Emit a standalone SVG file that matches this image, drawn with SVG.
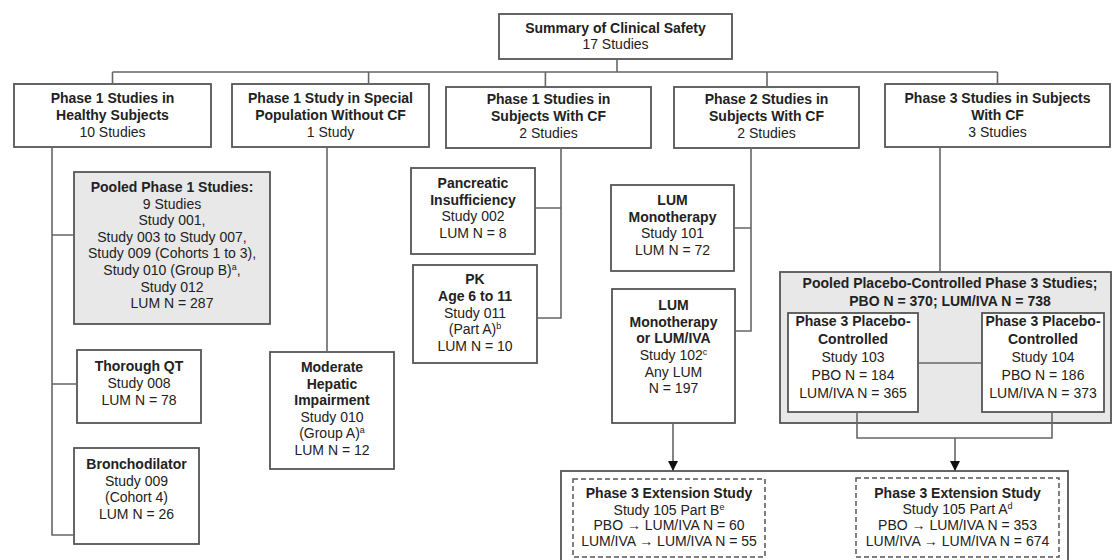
<svg xmlns="http://www.w3.org/2000/svg" width="1113" height="560" viewBox="0 0 1113 560">
<defs>
<style>
.box{fill:#fff;stroke:#555;stroke-width:1.8}
.gray{fill:#e8e8e8}
.dash{stroke-dasharray:5 3;stroke-width:1.5}
.t{font-family:"Liberation Sans",Arial,sans-serif;font-size:14px;fill:#222;text-anchor:middle}
.b{font-weight:bold}
.conn{stroke:#666;stroke-width:1.6;fill:none}
.sup{font-size:9px}
</style>
<marker id="arr" viewBox="0 0 10 10" refX="10" refY="5" markerWidth="10" markerHeight="10" markerUnits="userSpaceOnUse" orient="auto">
<path d="M0,0 L10,5 L0,10 z" fill="#111"/>
</marker>
</defs>
<rect width="1113" height="560" fill="#fff"/>

<g id="top">
<rect class="box" x="499" y="14" width="233" height="45"/>
<text class="t b" x="615.5" y="33">Summary of Clinical Safety</text>
<text class="t" x="615.5" y="49">17 Studies</text>
</g>

<g id="p1healthy">
<rect class="box" x="14" y="84" width="197" height="63"/>
<text class="t b" x="112.5" y="103">Phase 1 Studies in</text>
<text class="t b" x="112.5" y="120">Healthy Subjects</text>
<text class="t" x="112.5" y="137">10 Studies</text>
</g>

<g id="p1special">
<rect class="box" x="232" y="84" width="197" height="63"/>
<text class="t b" x="330.5" y="103">Phase 1 Study in Special</text>
<text class="t b" x="330.5" y="120">Population Without CF</text>
<text class="t" x="330.5" y="137">1 Study</text>
</g>

<g id="p1cf">
<rect class="box" x="446" y="87" width="205" height="61"/>
<text class="t b" x="548.5" y="104">Phase 1 Studies in</text>
<text class="t b" x="548.5" y="121">Subjects With CF</text>
<text class="t" x="548.5" y="138">2 Studies</text>
</g>

<g id="p2cf">
<rect class="box" x="674" y="87" width="185" height="61"/>
<text class="t b" x="766.5" y="104">Phase 2 Studies in</text>
<text class="t b" x="766.5" y="121">Subjects With CF</text>
<text class="t" x="766.5" y="138">2 Studies</text>
</g>

<g id="p3cf">
<rect class="box" x="885" y="84" width="225" height="63"/>
<text class="t b" x="997.5" y="103">Phase 3 Studies in Subjects</text>
<text class="t b" x="997.5" y="120">With CF</text>
<text class="t" x="997.5" y="137">3 Studies</text>
</g>

<g id="pooledp1">
<rect class="box gray" x="74" y="172" width="196" height="152"/>
<text class="t b" x="172" y="192">Pooled Phase 1 Studies:</text>
<text class="t" x="172" y="208.6">9 Studies</text>
<text class="t" x="172" y="225.2">Study 001,</text>
<text class="t" x="172" y="241.8">Study 003 to Study 007,</text>
<text class="t" x="172" y="258.4">Study 009 (Cohorts 1 to 3),</text>
<text class="t" x="172" y="275">Study 010 (Group B)<tspan class="sup" baseline-shift="super">a</tspan>,</text>
<text class="t" x="172" y="291.6">Study 012</text>
<text class="t" x="172" y="308.2">LUM N = 287</text>
</g>

<g id="thoroughqt">
<rect class="box" x="77" y="350" width="124" height="73"/>
<text class="t b" x="139" y="371">Thorough QT</text>
<text class="t" x="139" y="388">Study 008</text>
<text class="t" x="139" y="405">LUM N = 78</text>
</g>

<g id="broncho">
<rect class="box" x="74" y="448" width="125" height="96"/>
<text class="t b" x="136.5" y="469">Bronchodilator</text>
<text class="t" x="136.5" y="486">Study 009</text>
<text class="t" x="136.5" y="502">(Cohort 4)</text>
<text class="t" x="136.5" y="519">LUM N = 26</text>
</g>

<g id="hepatic">
<rect class="box" x="270" y="352" width="124" height="117"/>
<text class="t b" x="332" y="372">Moderate</text>
<text class="t b" x="332" y="389">Hepatic</text>
<text class="t b" x="332" y="405">Impairment</text>
<text class="t" x="332" y="422">Study 010</text>
<text class="t" x="332" y="438">(Group A)<tspan class="sup" baseline-shift="super">a</tspan></text>
<text class="t" x="332" y="455">LUM N = 12</text>
</g>

<g id="pancreatic">
<rect class="box" x="411" y="168" width="124" height="86"/>
<text class="t b" x="473" y="188">Pancreatic</text>
<text class="t b" x="473" y="205">Insufficiency</text>
<text class="t" x="473" y="221">Study 002</text>
<text class="t" x="473" y="238">LUM N = 8</text>
</g>

<g id="pk">
<rect class="box" x="413" y="265" width="124" height="98"/>
<text class="t b" x="475" y="284">PK</text>
<text class="t b" x="475" y="301">Age 6 to 11</text>
<text class="t" x="475" y="318">Study 011</text>
<text class="t" x="475" y="334">(Part A)<tspan class="sup" baseline-shift="super">b</tspan></text>
<text class="t" x="475" y="351">LUM N = 10</text>
</g>

<g id="study101">
<rect class="box" x="611" y="185" width="123" height="86"/>
<text class="t b" x="672.5" y="205">LUM</text>
<text class="t b" x="672.5" y="222">Monotherapy</text>
<text class="t" x="672.5" y="238">Study 101</text>
<text class="t" x="672.5" y="255">LUM N = 72</text>
</g>

<g id="study102">
<rect class="box" x="612" y="289" width="123" height="134"/>
<text class="t b" x="673.5" y="310">LUM</text>
<text class="t b" x="673.5" y="327">Monotherapy</text>
<text class="t b" x="673.5" y="343">or LUM/IVA</text>
<text class="t" x="673.5" y="360">Study 102<tspan class="sup" baseline-shift="super">c</tspan></text>
<text class="t" x="673.5" y="377">Any LUM</text>
<text class="t" x="673.5" y="393">N = 197</text>
</g>

<g id="pooledp3">
<rect class="box gray" x="780" y="272" width="331" height="151"/>
<text class="t b" x="950" y="288">Pooled Placebo-Controlled Phase 3 Studies;</text>
<text class="t b" x="950" y="306">PBO N = 370; LUM/IVA N = 738</text>
</g>

<g id="study103">
<rect class="box" x="788" y="313" width="130" height="99"/>
<text class="t b" x="853" y="326">Phase 3 Placebo-</text>
<text class="t b" x="853" y="344">Controlled</text>
<text class="t" x="853" y="362">Study 103</text>
<text class="t" x="853" y="380">PBO N = 184</text>
<text class="t" x="853" y="398">LUM/IVA N = 365</text>
</g>

<g id="study104">
<rect class="box" x="982" y="313" width="122" height="99"/>
<text class="t b" x="1043" y="326">Phase 3 Placebo-</text>
<text class="t b" x="1043" y="344">Controlled</text>
<text class="t" x="1043" y="362">Study 104</text>
<text class="t" x="1043" y="380">PBO N = 186</text>
<text class="t" x="1043" y="398">LUM/IVA N = 373</text>
</g>

<g id="extension">
<rect class="box" x="561" y="471" width="507" height="100"/>
</g>

<g id="ext105b">
<rect class="box dash" x="573" y="479" width="192" height="78"/>
<text class="t b" x="669" y="498">Phase 3 Extension Study</text>
<text class="t" x="669" y="515">Study 105 Part B<tspan class="sup" baseline-shift="super">e</tspan></text>
<text class="t" x="669" y="530">PBO → LUM/IVA N = 60</text>
<text class="t" x="669" y="546">LUM/IVA → LUM/IVA N = 55</text>
</g>

<g id="ext105a">
<rect class="box dash" x="856" y="478" width="203" height="79"/>
<text class="t b" x="957.5" y="498">Phase 3 Extension Study</text>
<text class="t" x="957.5" y="514">Study 105 Part A<tspan class="sup" baseline-shift="super">d</tspan></text>
<text class="t" x="957.5" y="530">PBO → LUM/IVA N = 353</text>
<text class="t" x="957.5" y="546">LUM/IVA → LUM/IVA N = 674</text>
</g>

<g id="connectors">
<path class="conn" d="M617,59 V72 M112.5,72 H997.5 M112.5,72 V84 M368.6,72 V84 M545.4,72 V87 M767,72 V87 M997.5,72 V84"/>
<path class="conn" d="M52,147 V535 H74 M52,235 H74 M52,384 H77"/>
<path class="conn" d="M327,147 V352"/>
<path class="conn" d="M561,148 V318 H537 M561,208 H535"/>
<path class="conn" d="M751,148 V331 H735 M751,228 H734"/>
<path class="conn" d="M940,147 V272"/>
<path class="conn" d="M918,363 H982"/>
<path class="conn" d="M857,412 V438 H1052 V412"/>
<path class="conn" d="M673,423 V471" marker-end="url(#arr)"/>
<path class="conn" d="M955,438 V471" marker-end="url(#arr)"/>
</g>
</svg>
